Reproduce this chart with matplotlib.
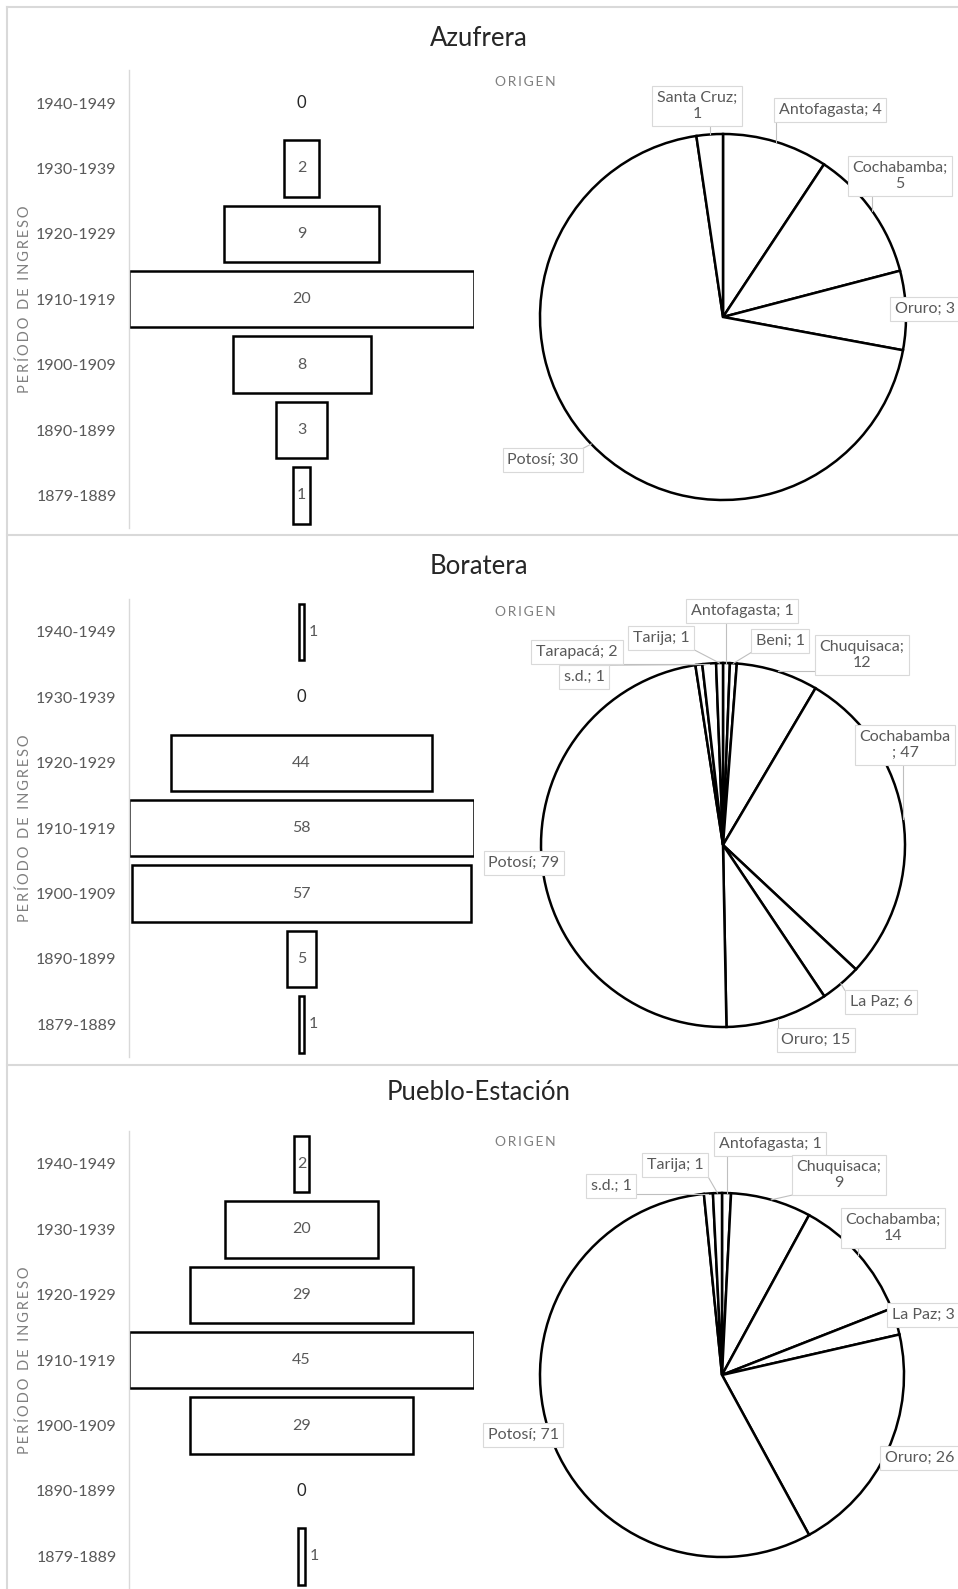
import matplotlib
matplotlib.use('Agg')
import matplotlib.pyplot as plt
from matplotlib.lines import Line2D
import numpy as np

plt.rcParams['font.family'] = ['Lato', 'DejaVu Sans']

# ---------------- data ----------------
periods = ['1940-1949', '1930-1939', '1920-1929', '1910-1919',
           '1900-1909', '1890-1899', '1879-1889']
titles = ['Azufrera', 'Boratera', 'Pueblo-Estación']

azufrera_counts = [0, 2, 9, 20, 8, 3, 1]
boratera_counts = [1, 0, 44, 58, 57, 5, 1]
pueblo_counts = [2, 20, 29, 45, 29, 0, 1]

azufrera_origin = ['Antofagasta', 'Cochabamba', 'Oruro', 'Potosí', 'Santa Cruz']
azufrera_origin_n = [4, 5, 3, 30, 1]
boratera_origin = ['Antofagasta', 'Beni', 'Chuquisaca', 'Cochabamba', 'La Paz',
                   'Oruro', 'Potosí', 's.d.', 'Tarapacá', 'Tarija']
boratera_origin_n = [1, 1, 12, 47, 6, 15, 79, 1, 2, 1]
pueblo_origin = ['Antofagasta', 'Chuquisaca', 'Cochabamba', 'La Paz', 'Oruro',
                 'Potosí', 's.d.', 'Tarija']
pueblo_origin_n = [1, 9, 14, 3, 26, 71, 1, 1]

# ---------------- layout (pixels) ----------------
W, H, DPI = 958, 1589, 100
ROW = 65.4
panels = [
    dict(title_y=39, origin_y=82, row0=103, pie_c=(723, 317), r=183,
         counts=azufrera_counts, names=azufrera_origin, vals=azufrera_origin_n,
         # label centre positions and wrap style (0 none, 1 after ';', 2 before ';')
         lab=[(830, 110, 0), (900, 176, 1), (925, 309, 0), (543, 460, 0), (697, 106, 1)]),
    dict(title_y=567, origin_y=612, row0=632, pie_c=(723, 845), r=182,
         counts=boratera_counts, names=boratera_origin, vals=boratera_origin_n,
         lab=[(742, 611, 0), (780, 641, 0), (862, 655, 1), (905, 745, 2), (881, 1002, 0),
              (816, 1040, 0), (524, 863, 0), (584, 677, 0), (577, 652, 0), (661, 638, 0)]),
    dict(title_y=1093, origin_y=1142, row0=1164, pie_c=(722, 1375), r=182,
         counts=pueblo_counts, names=pueblo_origin, vals=pueblo_origin_n,
         lab=[(770, 1144, 0), (839, 1175, 1), (893, 1228, 1), (923, 1315, 0),
              (920, 1458, 0), (523, 1435, 0), (611, 1186, 0), (675, 1165, 0)]),
]

GRAY_TXT = '#595959'
LIGHT = '#d9d9d9'

fig = plt.figure(figsize=(W / DPI, H / DPI), dpi=DPI)
fig.patch.set_facecolor('white')


def fx(x):
    return x / W


def fy(y):
    return 1 - y / H


def spaced(s, sep='\u2009'):
    return sep.join(list(s))


# borders / separators
fig.add_artist(Line2D([fx(7), fx(7)], [fy(7), fy(H)], transform=fig.transFigure, color=LIGHT, lw=1.5))
for yy in (7, 535, 1065):
    fig.add_artist(Line2D([fx(7), 1], [fy(yy), fy(yy)], transform=fig.transFigure, color=LIGHT, lw=1.5))

BX0, BX1 = 129, 474
texts_for_leaders = []

for p, title in zip(panels, titles):
    counts = p['counts']
    n = len(periods)
    top = p['row0'] - ROW / 2
    bot = p['row0'] + (n - 1) * ROW + ROW / 2
    ax = fig.add_axes([fx(BX0), fy(bot), (BX1 - BX0) / W, (bot - top) / H])
    m = max(counts)
    y = np.arange(n)
    ax.barh(y, counts, left=[-c / 2 for c in counts], height=0.865,
            color='white', edgecolor=['black' if c > 0 else 'none' for c in counts],
            linewidth=1.8)
    ax.set_xlim(-m / 2, m / 2)
    ax.set_ylim(n - 0.5, -0.5)
    ax.set_yticks(y)
    ax.set_yticklabels(periods)
    ax.set_xticks([])
    ax.tick_params(axis='y', length=0, pad=9, labelsize=11.5, labelcolor=GRAY_TXT)
    for s in ('top', 'right', 'bottom'):
        ax.spines[s].set_visible(False)
    ax.spines['left'].set_color(LIGHT)
    ax.spines['left'].set_linewidth(1.0)
    ax.patch.set_alpha(0)
    px_per_unit = (BX1 - BX0) / m
    for i, c in enumerate(counts):
        if c == 0:
            ax.text(0, i, '0', ha='center', va='center', fontsize=12, color='#262626')
        elif c * px_per_unit < 12:
            ax.annotate(str(c), (c / 2, i), xytext=(3, 0), textcoords='offset points',
                        ha='left', va='center', fontsize=11.5, color=GRAY_TXT)
        else:
            ax.text(0, i, str(c), ha='center', va='center', fontsize=11.5, color=GRAY_TXT)

    fig.text(fx(25), fy((top + bot) / 2), spaced('PERÍODO DE INGRESO'), rotation=90,
             ha='center', va='center', fontsize=10.5, color='#7f7f7f')

    # title
    fig.text(0.5, fy(p['title_y']), title, ha='center', va='center', fontsize=18.5, color='#262626')
    fig.text(fx(495), fy(p['origin_y']), spaced('ORIGEN'), ha='left', va='center',
             fontsize=10, color='#7f7f7f')

    # pie
    cx, cy = p['pie_c']
    r = p['r']
    pax = fig.add_axes([fx(cx - r), fy(cy + r), 2 * r / W, 2 * r / H])
    pax.pie(p['vals'], startangle=90, counterclock=False, radius=1,
            colors=['white'] * len(p['vals']),
            wedgeprops=dict(edgecolor='black', linewidth=1.8))
    pax.set_xlim(-1, 1)
    pax.set_ylim(-1, 1)
    pax.set_aspect('auto')
    pax.axis('off')

    total = sum(p['vals'])
    cum = 0
    for name, v, (lx, ly, wrap) in zip(p['names'], p['vals'], p['lab']):
        mid = (cum + v / 2) / total * 2 * np.pi
        cum += v
        ex = cx + r * np.sin(mid)
        ey = cy - r * np.cos(mid)
        if wrap == 1:
            s = f'{name};\n{v}'
        elif wrap == 2:
            s = f'{name}\n; {v}'
        else:
            s = f'{name}; {v}'
        t = fig.text(fx(lx), fy(ly), s, ha='center', va='center', fontsize=11.5,
                     color=GRAY_TXT, linespacing=1.25, zorder=5,
                     bbox=dict(boxstyle='square,pad=0.3', facecolor='white',
                               edgecolor=LIGHT, linewidth=0.8))
        texts_for_leaders.append((t, ex, ey))

# leader lines
fig.canvas.draw()
for t, ex, ey in texts_for_leaders:
    bb = t.get_bbox_patch().get_window_extent()
    x0, x1 = bb.x0, bb.x1
    y0, y1 = H - bb.y1, H - bb.y0
    nx = min(max(ex, x0), x1)
    ny = min(max(ey, y0), y1)
    d = np.hypot(ex - nx, ey - ny)
    if d > 2:
        fig.add_artist(Line2D([fx(nx), fx(ex)], [fy(ny), fy(ey)], transform=fig.transFigure,
                              color='#bfbfbf', lw=0.8, zorder=4))

fig.savefig('out.png', dpi=DPI, facecolor='white')
